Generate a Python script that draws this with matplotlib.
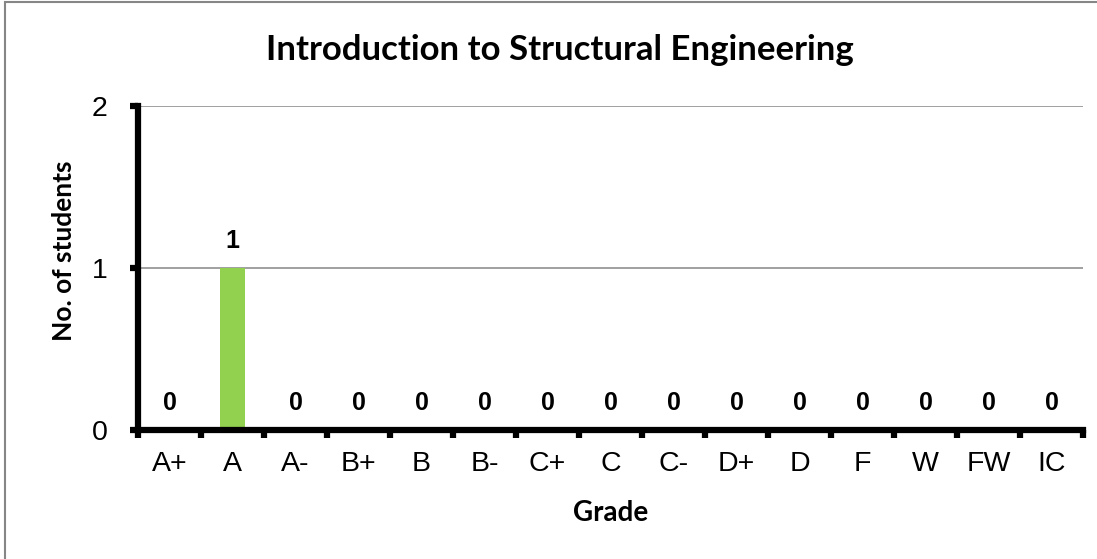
import matplotlib.pyplot as plt
from matplotlib.patches import Rectangle

# grade distribution
grades = ['A+', 'A', 'A-', 'B+', 'B', 'B-', 'C+', 'C', 'C-', 'D+', 'D', 'F', 'W', 'FW', 'IC']
students = [0, 1, 0, 0, 0, 0, 0, 0, 0, 0, 0, 0, 0, 0, 0]

W, H = 1097, 559
fig = plt.figure(figsize=(W / 100, H / 100), dpi=100)

# outer chart border (gray), only left/top visible
fig.patches.append(Rectangle((5 / W, -0.1), 1.2, (H - 2) / H + 0.1, transform=fig.transFigure,
                             fill=False, edgecolor='#868686', linewidth=1.5))

# plot area in pixels: x 138..1083, y 106..430
ax = fig.add_axes([138 / W, 1 - 430 / H, (1083 - 138) / W, (430 - 106) / H])

x = list(range(len(grades)))
ax.bar(x, students, width=0.41, color='#92d050', zorder=3)

for xi, v in zip(x, students):
    ax.annotate(str(v), (xi, v), xytext=(0, 11), textcoords='offset points',
                ha='center', va='bottom', fontsize=18, fontweight='bold',
                family='Liberation Sans', zorder=4)

ax.set_xlim(-0.5, len(grades) - 0.5)
ax.set_ylim(0, 2)
ax.set_yticks([0, 1, 2])
ax.set_yticklabels(['0', '1', '2'], family='Liberation Sans', fontsize=20.5)
ax.yaxis.grid(True, color='#868686', linewidth=1.1, zorder=0)

# x ticks at category boundaries, labels centered in categories
ax.set_xticks([i - 0.5 for i in range(len(grades) + 1)])
ax.set_xticklabels([])
ax.set_xticks(x, minor=True)
ax.set_xticklabels(grades, minor=True, family='Liberation Sans', fontsize=20.5)
ax.tick_params(axis='x', which='minor', length=0, pad=15)
ax.tick_params(axis='x', which='major', length=6, width=4.5, direction='out')
ax.tick_params(axis='y', length=6, width=4.5, direction='out', pad=16)

for s in ['top', 'right']:
    ax.spines[s].set_visible(False)
for s in ['left', 'bottom']:
    ax.spines[s].set_linewidth(4.5)
    ax.spines[s].set_zorder(5)

ax.set_xlabel('Grade', family='Lato', fontweight='bold', fontsize=20, va='center')
ax.xaxis.set_label_coords((611 - 138) / (1083 - 138), (430 - 513) / 324)
ax.set_ylabel('No. of students', family='Lato', fontweight='bold', fontsize=19, va='center')
ax.yaxis.set_label_coords((64 - 138) / (1083 - 138), (430 - 251) / 324)

fig.text(560 / W, 1 - 50 / H, 'Introduction to Structural Engineering', ha='center', va='center',
         family='Lato', fontweight='bold', fontsize=25)

fig.savefig('out.png', dpi=100)
